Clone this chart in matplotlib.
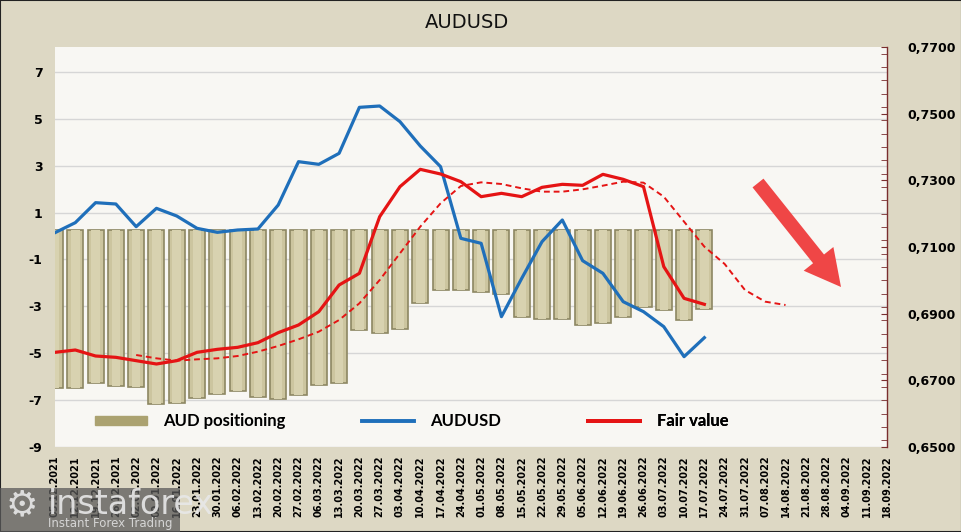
import matplotlib
matplotlib.use("Agg")
import matplotlib.pyplot as plt
from matplotlib.patches import Patch, Rectangle, FancyArrow
from matplotlib.lines import Line2D
from matplotlib.ticker import FuncFormatter, MultipleLocator
import numpy as np

dates = ["05.12.2021", "12.12.2021", "19.12.2021", "26.12.2021", "02.01.2022", "09.01.2022",
         "16.01.2022", "23.01.2022", "30.01.2022", "06.02.2022", "13.02.2022", "20.02.2022",
         "27.02.2022", "06.03.2022", "13.03.2022", "20.03.2022", "27.03.2022", "03.04.2022",
         "10.04.2022", "17.04.2022", "24.04.2022", "01.05.2022", "08.05.2022", "15.05.2022",
         "22.05.2022", "29.05.2022", "05.06.2022", "12.06.2022", "19.06.2022", "26.06.2022",
         "03.07.2022", "10.07.2022", "17.07.2022", "24.07.2022", "31.07.2022", "07.08.2022",
         "14.08.2022", "21.08.2022", "28.08.2022", "04.09.2022", "11.09.2022", "18.09.2022"]

positioning = [-6.50, -6.50, -6.28, -6.40, -6.43, -7.17, -7.11, -6.92, -6.74, -6.61, -6.88,
               -6.97, -6.78, -6.36, -6.28, -4.01, -4.15, -3.97, -2.87, -2.30, -2.30, -2.40,
               -2.49, -3.44, -3.56, -3.56, -3.80, -3.70, -3.44, -3.04, -3.16, -3.58, -3.13]
bar_top = 0.25

audusd = [0.7143, 0.7173, 0.7233, 0.7229, 0.7161, 0.7216, 0.7193, 0.7156, 0.7144, 0.7151,
          0.7154, 0.7226, 0.7356, 0.7348, 0.7381, 0.7519, 0.7523, 0.7476, 0.7403, 0.7341,
          0.7126, 0.7111, 0.6891, 0.7006, 0.7116, 0.7181, 0.7059, 0.7021, 0.6936, 0.6906,
          0.6861, 0.6771, 0.6828]

fair_value = [0.6784, 0.6791, 0.6773, 0.6769, 0.6759, 0.6749, 0.6759, 0.6784, 0.6793, 0.6799,
              0.6813, 0.6843, 0.6866, 0.6906, 0.6986, 0.7021, 0.7191, 0.7281, 0.7333, 0.7319,
              0.7296, 0.7251, 0.7261, 0.7251, 0.7279, 0.7288, 0.7285, 0.7318, 0.7303, 0.7281,
              0.7041, 0.6946, 0.6928]

fair_trend_start = 4
fair_trend = [0.6776, 0.6766, 0.6759, 0.6763, 0.6766, 0.6773, 0.6786, 0.6803, 0.6823, 0.6846,
              0.6881, 0.6931, 0.7001, 0.7081, 0.7161, 0.7231, 0.7283, 0.7294, 0.7289, 0.7276,
              0.7266, 0.7266, 0.7273, 0.7284, 0.7296, 0.7293, 0.7251, 0.7176, 0.7101, 0.7049,
              0.6971, 0.6936, 0.6926]

left_ticks = [-9, -7, -5, -3, -1, 1, 3, 5, 7]
right_ticks = [0.65, 0.67, 0.69, 0.71, 0.73, 0.75, 0.77]

FIG_BG = "#DDD8C4"
PLOT_BG = "#F8F7F3"
BLUE = "#1F6FBA"
RED = "#E51414"

fig = plt.figure(figsize=(9.62, 5.32), dpi=100, facecolor=FIG_BG)
ax = fig.add_axes([55/962, 85/532, 832/962, 400/532])
ax.set_facecolor(PLOT_BG)
ax2 = ax.twinx()

x_all = np.arange(len(dates))
xb = np.arange(len(positioning))
heights = [p - bar_top for p in positioning]
ax.bar(xb, heights, bottom=bar_top, width=0.79, color="#CCC59F", edgecolor="#8D8762",
       linewidth=1.2, zorder=2)
ax.bar(xb, heights, bottom=bar_top, width=0.42, color="#D8D2B0", linewidth=0, zorder=2.1)

ax.set_xlim(0, len(dates) - 1)
ax.set_ylim(-9, 8.06)
ax.set_yticks(left_ticks)
ax.set_yticklabels([str(t) for t in left_ticks])
ax.yaxis.grid(True, color="#D6D6D6", linewidth=1)
ax.set_axisbelow(True)
ax.set_xticks(x_all)
ax.set_xticklabels(dates, rotation=90, fontsize=7, fontweight="bold", family="DejaVu Sans")
ax.tick_params(axis="x", length=0, pad=6)
ax.tick_params(axis="y", length=0, pad=9, labelsize=9)
for lab in ax.get_yticklabels():
    lab.set_fontweight("bold")
for s in ["left", "top", "bottom", "right"]:
    ax.spines[s].set_visible(False)

ax2.plot(xb, audusd, color=BLUE, linewidth=2.3, zorder=3)
ax2.plot(xb, fair_value, color=RED, linewidth=2.3, zorder=3)
xt = np.arange(fair_trend_start, fair_trend_start + len(fair_trend))
ax2.plot(xt, fair_trend, color=RED, linewidth=1.4, linestyle=(0, (3, 2)), zorder=3)
ax2.set_ylim(0.65, 0.77)
ax2.set_yticks(right_ticks)
ax2.yaxis.set_minor_locator(MultipleLocator(0.004))
ax2.yaxis.set_major_formatter(FuncFormatter(lambda v, p: f"{v:.4f}".replace(".", ",")))
ax2.tick_params(axis="y", which="both", direction="in", length=4, color="#7A2E2E",
                pad=15, labelsize=9)
for lab in ax2.get_yticklabels():
    lab.set_fontweight("bold")
for s in ["left", "top", "bottom"]:
    ax2.spines[s].set_visible(False)
ax2.spines["right"].set_color("#7A2E2E")
ax2.spines["right"].set_linewidth(1)

# trend arrow (annotation, in inches on the figure)
arrow = FancyArrow(7.58, 3.49, 0.83, -1.04, width=0.14, head_width=0.38, head_length=0.36,
                   length_includes_head=True, transform=fig.dpi_scale_trans,
                   facecolor="#EF4646", edgecolor="none", zorder=5)
fig.patches.append(arrow)

# legend
lfont = {"family": "Lato", "weight": "bold", "size": 12}
entries = [
    (Patch(facecolor="#ABA270", edgecolor="#ABA270"), "AUD positioning", 0.048),
    (Line2D([], [], color=BLUE, linewidth=2.8), "AUDUSD", 0.369),
    (Line2D([], [], color=RED, linewidth=2.8), "Fair value", 0.641),
]
for h, lbl, xpos in entries:
    lg = ax2.legend([h], [lbl], loc="center left", bbox_to_anchor=(xpos, 0.064),
                    frameon=False, prop=lfont, handlelength=3.1, handleheight=0.5,
                    handletextpad=1.0, borderpad=0, borderaxespad=0)
    ax2.add_artist(lg)

fig.text(0.4855, 0.957, "AUDUSD", ha="center", va="center", fontsize=14, color="#111111")

# frame around figure
fig.patches.append(Rectangle((0, 0), 1, 1, transform=fig.transFigure, fill=False,
                             edgecolor="#222222", linewidth=1.5))

# watermark
fig.patches.append(Rectangle((0, 0), 180/962, 44/532, transform=fig.transFigure,
                             facecolor="#5A5A5A", alpha=0.75, edgecolor="none", zorder=10))
fig.text(48/962, 27/532, "instaforex", fontsize=24, color="#E8E8E8", va="center",
         ha="left", alpha=0.9, zorder=11)
fig.text(48/962, 9/532, "Instant Forex Trading", fontsize=8.5, color="#E0E0E0",
         va="center", ha="left", alpha=0.9, zorder=11)
fig.text(22/962, 27/532, "\u2699", fontsize=26, color="#E8E8E8", va="center", ha="center",
         alpha=0.9, zorder=11)

fig.savefig("out.png", dpi=100, facecolor=FIG_BG)
